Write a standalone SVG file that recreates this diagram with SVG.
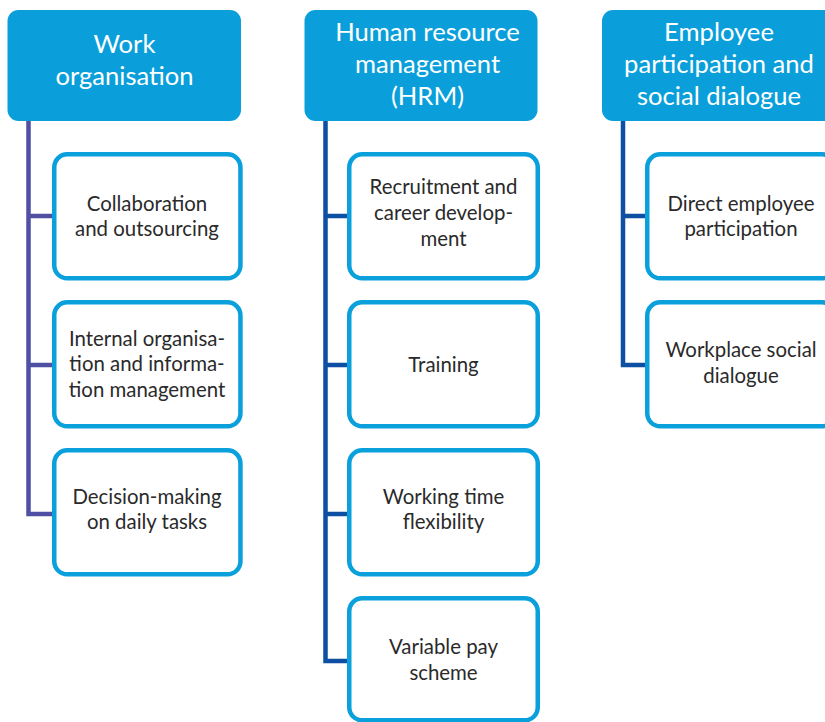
<svg xmlns="http://www.w3.org/2000/svg" width="825" height="722" viewBox="0 0 825 722">
<style>
.hdr{fill:#0a9fda}
.htxt{font-family:Lato,"Liberation Sans",sans-serif;font-size:25.6px;fill:#ffffff;text-anchor:middle}
.box{fill:#ffffff;stroke:#0aa0dc;stroke-width:4.5}
.btxt{font-family:Lato,"Liberation Sans",sans-serif;font-size:20.4px;fill:#2a2a2a;text-anchor:middle}
.c1{fill:none;stroke:#4f4fa3;stroke-width:4.5}
.c2{fill:none;stroke:#0d4fa2;stroke-width:4.5}
</style>
<rect width="825" height="722" fill="#ffffff"/>
<g id="connectors">
<path class="c1" d="M28.5 120 V514 H54 M28.5 216 H54 M28.5 365 H54"/>
<path class="c2" d="M325.5 120 V661 H349 M325.5 216 H349 M325.5 365 H349 M325.5 514 H349"/>
<path class="c2" d="M623 120 V365 H647 M623 216 H647"/>
</g>
<g id="h1">
<rect class="hdr" x="7.5" y="10" width="233.5" height="111" rx="11"/>
<text class="htxt"><tspan x="124.5" y="53">Work</tspan><tspan x="124.5" y="85">organisation</tspan></text>
</g>
<g id="h2">
<rect class="hdr" x="304.5" y="10" width="233" height="111" rx="11"/>
<text class="htxt"><tspan x="427.5" y="41">Human resource</tspan><tspan x="427.5" y="73">management</tspan><tspan x="427.5" y="105">(HRM)</tspan></text>
</g>
<g id="h3">
<rect class="hdr" x="602" y="10" width="234" height="111" rx="11"/>
<text class="htxt"><tspan x="719" y="41">Employee</tspan><tspan x="719" y="73">participation and</tspan><tspan x="719" y="105">social dialogue</tspan></text>
</g>
<g id="n1">
<rect class="box" x="54.25" y="154.3" width="186.2" height="124" rx="13"/>
<text class="btxt"><tspan x="147" y="211">Collaboration</tspan><tspan x="147" y="236">and outsourcing</tspan></text>
</g>
<g id="n2">
<rect class="box" x="54.25" y="302.3" width="186.2" height="124" rx="13"/>
<text class="btxt"><tspan x="147" y="346">Internal organisa-</tspan><tspan x="147" y="371">tion and informa-</tspan><tspan x="147" y="397">tion management</tspan></text>
</g>
<g id="n3">
<rect class="box" x="54.25" y="450.3" width="186.2" height="124" rx="13"/>
<text class="btxt"><tspan x="147" y="504">Decision-making</tspan><tspan x="147" y="529">on daily tasks</tspan></text>
</g>
<g id="n4">
<rect class="box" x="349.25" y="154.3" width="188.5" height="124" rx="13"/>
<text class="btxt"><tspan x="443.5" y="194">Recruitment and</tspan><tspan x="443.5" y="220">career develop-</tspan><tspan x="443.5" y="246">ment</tspan></text>
</g>
<g id="n5">
<rect class="box" x="349.25" y="302.3" width="188.5" height="124" rx="13"/>
<text class="btxt"><tspan x="443.5" y="372">Training</tspan></text>
</g>
<g id="n6">
<rect class="box" x="349.25" y="450.3" width="188.5" height="124" rx="13"/>
<text class="btxt"><tspan x="443.5" y="504">Working time</tspan><tspan x="443.5" y="529">flexibility</tspan></text>
</g>
<g id="n7">
<rect class="box" x="349.25" y="598.3" width="188.5" height="122" rx="13"/>
<text class="btxt"><tspan x="443.5" y="654">Variable pay</tspan><tspan x="443.5" y="680">scheme</tspan></text>
</g>
<g id="n8">
<rect class="box" x="647.25" y="154.3" width="188" height="124" rx="13"/>
<text class="btxt"><tspan x="741" y="211">Direct employee</tspan><tspan x="741" y="236">participation</tspan></text>
</g>
<g id="n9">
<rect class="box" x="647.25" y="302.3" width="188" height="124" rx="13"/>
<text class="btxt"><tspan x="741" y="357">Workplace social</tspan><tspan x="741" y="383">dialogue</tspan></text>
</g>
</svg>
